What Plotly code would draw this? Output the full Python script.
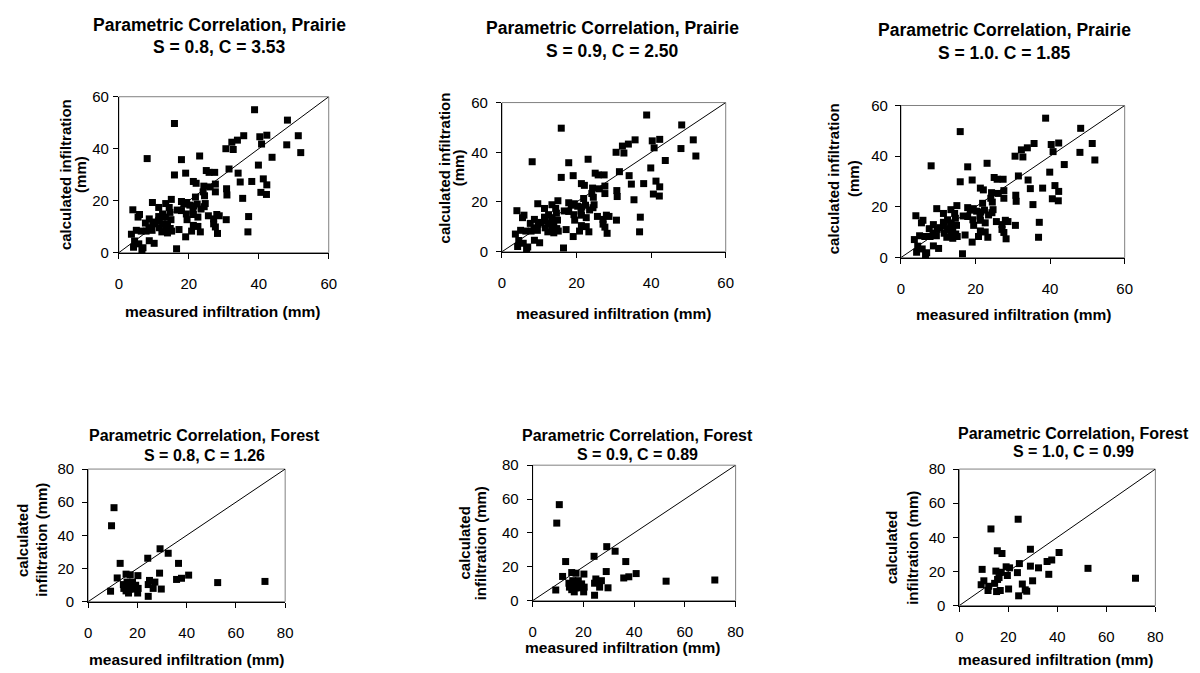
import plotly.graph_objects as go

W, H = 1200, 673

# Prairie: measured vs calculated infiltration (mm), same sample at each S
prairie_measured = [
    38.8, 15.9, 48.2, 51.3, 52.0, 48.0, 40.3, 42.3, 40.8, 43.8, 39.9, 38.0, 41.3, 42.3, 40.6, 42.2,
    35.4, 37.1, 36.9, 35.7, 33.9, 32.3, 32.7, 30.6, 31.5, 34.1, 34.7, 30.8, 30.9, 30.7, 8.1, 17.9,
    23.1, 15.9, 19.1, 25.0, 25.8, 27.4, 21.3, 22.1, 27.6, 24.3, 26.1, 24.1, 27.6, 24.5, 21.9,
    9.6, 15.0, 17.9, 18.6, 19.4, 20.3, 22.4, 24.7, 13.4, 11.4, 4.0, 14.4, 16.7, 17.9, 21.2, 23.5,
    24.4, 5.9, 12.5, 14.6, 19.3, 21.3, 22.6, 25.6, 28.0, 28.7, 5.5, 8.7, 11.4, 13.3, 14.9, 19.5,
    7.6, 9.7, 10.4, 12.5, 13.9, 13.4, 8.6, 11.6, 14.7, 12.3, 13.9, 17.2, 15.1, 5.0, 6.4, 7.8,
    9.5, 3.6, 21.3, 22.6, 20.8, 23.3, 19.1, 27.1, 27.6, 28.2, 27.1, 4.5, 5.7, 6.9, 4.2, 8.7,
    10.1, 6.6, 16.5, 11.4, 21.4,
]
prairie_calculated = [
    55.0, 49.7, 51.0, 45.0, 38.5, 41.5, 44.6, 45.2, 41.8, 36.7, 33.7, 27.4, 28.4, 26.1, 23.2, 22.4,
    20.9, 13.9, 8.0, 45.0, 43.3, 42.5, 39.7, 40.0, 32.2, 30.6, 27.2, 24.6, 22.2, 12.7, 36.2, 35.8,
    37.2, 29.9, 30.6, 31.6, 30.9, 30.9, 27.4, 26.7, 26.4, 25.6, 25.3, 23.4, 23.4, 21.9, 21.4,
    19.3, 20.5, 19.7, 18.7, 19.3, 18.3, 18.7, 18.9, 18.9, 17.4, 16.5, 17.4, 16.4, 16.2, 16.4, 16.8,
    17.7, 14.7, 14.9, 15.5, 14.9, 14.7, 13.7, 14.2, 14.7, 14.2, 13.7, 13.0, 12.4, 13.7, 12.7, 12.7,
    11.4, 11.1, 11.8, 11.1, 11.1, 9.9, 9.6, 9.6, 9.3, 8.0, 7.6, 8.9, 8.3, 8.6, 8.3, 8.3,
    8.6, 7.1, 10.5, 10.1, 8.3, 8.0, 6.1, 11.1, 9.9, 7.4, 13.0, 4.5, 3.4, 1.9, 2.1, 4.6,
    3.6, 0.9, 1.5, 13.9, 18.0,
]

# Forest: S = 0.8 and S = 0.9 share the same values
forest_measured = [
    10.5, 9.5, 29.2, 32.5, 24.2, 13.0, 36.7, 9.1, 11.8, 15.4, 17.1, 20.2, 29.0, 40.8, 37.9, 35.9,
    52.6, 71.8, 26.4, 29.7, 24.4, 24.4, 24.9, 27.1, 14.3, 14.5, 15.4, 16.4, 16.7, 18.0, 19.3, 20.1,
    16.9, 18.5, 20.3, 15.8,
]
forest_calculated = [
    56.7, 45.8, 31.9, 29.2, 26.2, 23.1, 23.1, 6.3, 14.3, 16.6, 16.2, 15.7, 17.2, 16.0, 14.1, 13.4,
    11.5, 12.2, 8.0, 7.6, 3.2, 10.3, 12.8, 11.8, 10.3, 8.0, 6.5, 5.2, 9.9, 11.8, 9.9, 5.2,
    7.6, 7.6, 8.0, 11.8,
]

# Forest: S = 1.0
forest_measured_s10 = [
    24.0, 12.9, 29.0, 15.5, 17.4, 40.7, 37.7, 35.8, 24.5, 19.1, 20.5, 29.0, 32.3, 52.5, 71.9, 9.3,
    14.9, 17.1, 23.7, 36.5, 19.6, 16.2, 10.0, 15.6, 29.9, 14.4, 8.9, 25.7, 11.7, 15.2, 16.7, 20.1,
    26.9, 24.2, 12.0, 27.5,
]
forest_calculated_s10 = [
    50.6, 44.9, 33.0, 32.1, 30.5, 31.1, 26.7, 25.8, 24.6, 22.7, 22.1, 23.1, 22.1, 21.8, 16.0, 21.2,
    20.2, 19.5, 19.3, 18.3, 17.6, 16.4, 14.5, 15.3, 14.5, 13.0, 12.2, 12.6, 8.8, 8.2, 8.8, 9.7,
    9.2, 5.7, 11.3, 8.4,
]

panel_titles = [
    ("Parametric Correlation, Prairie", "S = 0.8, C = 3.53"),
    ("Parametric Correlation, Prairie", "S = 0.9, C = 2.50"),
    ("Parametric Correlation, Prairie", "S = 1.0. C = 1.85"),
    ("Parametric Correlation, Forest", "S = 0.8, C = 1.26"),
    ("Parametric Correlation, Forest", "S = 0.9, C = 0.89"),
    ("Parametric Correlation, Forest", "S = 1.0, C = 0.99"),
]
x_title = "measured infiltration (mm)"
y_title_prairie = ["calculated infiltration", "(mm)"]
y_title_forest = ["calculated", "infiltration (mm)"]

prairie_max, prairie_step = 60, 20
forest_max, forest_step = 80, 20

FONT = "Liberation Sans, Arial, sans-serif"

# Panel layout in pixels: plot box (left, right, top, bottom),
# title line centres, x-title centre, y-title line x-positions and centre y
panels = [
    dict(box=(116, 328, 90, 250), t=(218, 16, 39), tfs=17.5, xt=(221, 310), yt=(62, 77, 170),
         ystand=1, data=(prairie_measured, prairie_calculated), vmax=prairie_max,
         step=prairie_step, ytxt=y_title_prairie),
    dict(box=(503, 729, 96, 249), t=(615, 19, 43), tfs=17.5, xt=(616, 312), yt=(445, 459, 163),
         ystand=5, data=(prairie_measured, prairie_calculated), vmax=prairie_max,
         step=prairie_step, ytxt=y_title_prairie),
    dict(box=(906, 1132, 99, 255), t=(1011, 22, 45), tfs=17.5, xt=(1020, 313), yt=(838, 858, 174),
         ystand=4, data=(prairie_measured, prairie_calculated), vmax=prairie_max,
         step=prairie_step, ytxt=y_title_prairie),
    dict(box=(85, 284, 472, 608), t=(203, 438, 458), tfs=16, xt=(185, 667), yt=(18, 38, 545),
         ystand=5, data=(forest_measured, forest_calculated), vmax=forest_max,
         step=forest_step, ytxt=y_title_forest),
    dict(box=(534, 739, 468, 607), t=(640, 438, 457), tfs=16, xt=(625, 655), yt=(465, 481, 548),
         ystand=5, data=(forest_measured, forest_calculated), vmax=forest_max,
         step=forest_step, ytxt=y_title_forest),
    dict(box=(965, 1163, 472, 612), t=(1080, 435, 454), tfs=16, xt=(1063, 667), yt=(896, 917, 553),
         ystand=5, data=(forest_measured_s10, forest_calculated_s10), vmax=forest_max,
         step=forest_step, ytxt=y_title_forest),
]


def px(x):
    return x / W


def py(y):
    return 1 - y / H


fig = go.Figure()
layout = dict(
    width=W, height=H, margin=dict(l=0, r=0, t=0, b=0),
    paper_bgcolor="white", plot_bgcolor="white", showlegend=False,
    font=dict(family=FONT, color="black"),
)
annotations = []
shapes = []

for i, p in enumerate(panels):
    n = "" if i == 0 else str(i + 1)
    xa, ya = "x" + n, "y" + n
    left, right, top, bottom = p["box"]
    vmax, step = p["vmax"], p["step"]
    axis_common = dict(
        range=[0, vmax], tick0=0, dtick=step, showgrid=False, zeroline=False,
        showline=True, linecolor="black", linewidth=1, ticks="outside", ticklen=5,
        tickcolor="black", tickwidth=1, tickfont=dict(family=FONT, size=15, color="black"),
        fixedrange=True,
    )
    layout["xaxis" + n] = dict(axis_common, domain=[px(left), px(right)], anchor=ya,
                               ticklabelstandoff=12)
    layout["yaxis" + n] = dict(axis_common, domain=[py(bottom), py(top)], anchor=xa,
                               ticklabelstandoff=p["ystand"])

    # 1:1 reference line across the axis range
    fig.add_trace(go.Scatter(
        x=[0, vmax], y=[0, vmax], mode="lines", xaxis=xa, yaxis=ya,
        line=dict(color="black", width=1), hoverinfo="skip", cliponaxis=True,
    ))
    mx, my = p["data"]
    fig.add_trace(go.Scatter(
        x=mx, y=my, mode="markers", xaxis=xa, yaxis=ya, cliponaxis=False,
        marker=dict(symbol="square", size=7, color="black", line=dict(width=0)),
    ))

    # gray plot-area frame
    shapes.append(dict(type="rect", xref=xa + " domain", yref=ya + " domain",
                       x0=0, x1=1, y0=0, y1=1, layer="below",
                       line=dict(color="#808080", width=1)))

    tx, ty1, ty2 = p["t"]
    t1, t2 = panel_titles[i]
    for txt, ty in ((t1, ty1), (t2, ty2)):
        annotations.append(dict(
            text="<b>%s</b>" % txt, x=px(tx), y=py(ty), xref="paper", yref="paper",
            xanchor="center", yanchor="middle", showarrow=False,
            font=dict(family=FONT, size=p["tfs"], color="black"),
        ))
    xx, xy = p["xt"]
    annotations.append(dict(
        text="<b>%s</b>" % x_title, x=px(xx), y=py(xy), xref="paper", yref="paper",
        xanchor="center", yanchor="middle", showarrow=False,
        font=dict(family=FONT, size=15.5, color="black"),
    ))
    yx1, yx2, yy = p["yt"]
    for txt, yx in zip(p["ytxt"], (yx1, yx2)):
        annotations.append(dict(
            text="<b>%s</b>" % txt, x=px(yx), y=py(yy), xref="paper", yref="paper",
            xanchor="center", yanchor="middle", showarrow=False, textangle=-90,
            font=dict(family=FONT, size=15, color="black"),
        ))

layout["annotations"] = annotations
layout["shapes"] = shapes
fig.update_layout(**layout)
fig.write_html("out.html")
